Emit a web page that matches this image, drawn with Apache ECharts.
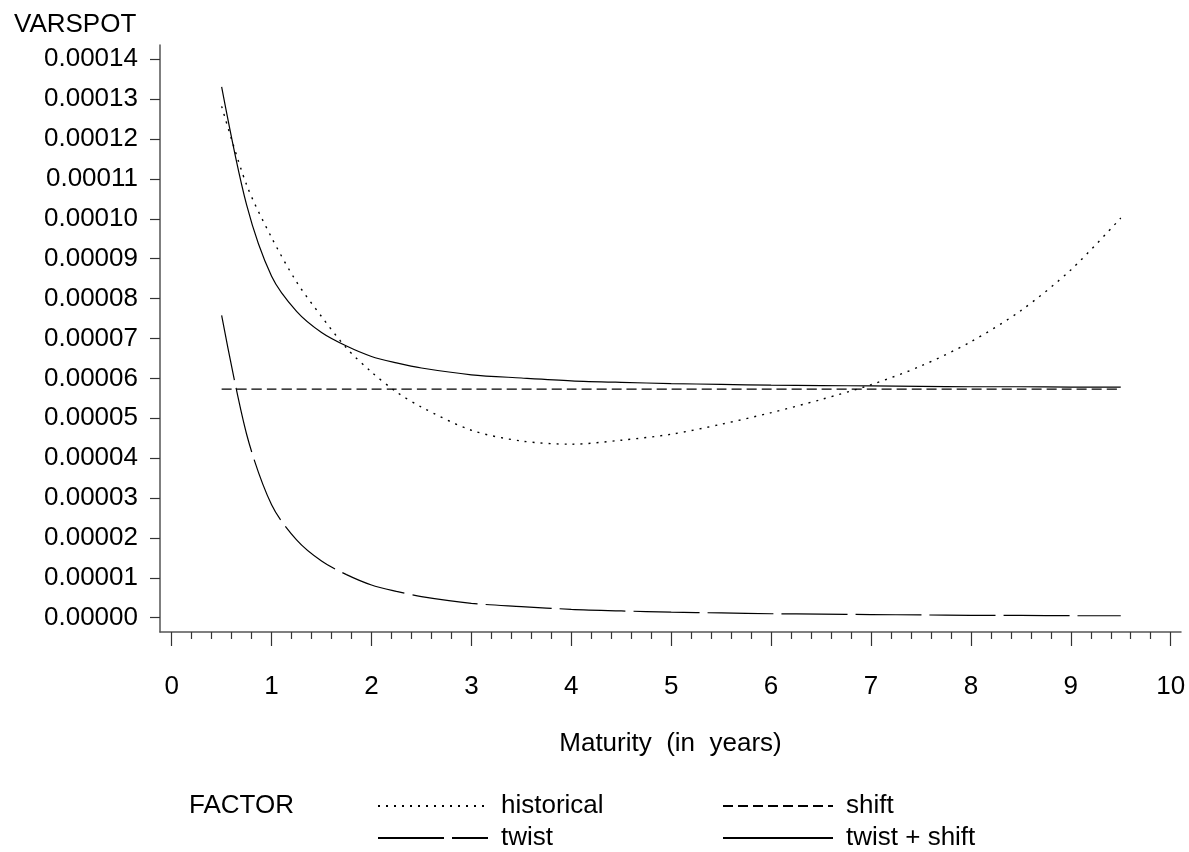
<!DOCTYPE html>
<html>
<head>
<meta charset="utf-8">
<title>VARSPOT by maturity</title>
<script src="https://cdn.jsdelivr.net/npm/echarts@6/dist/echarts.min.js"></script>
<style>
  html, body { margin: 0; padding: 0; background: #fff; }
  #chart { width: 1189px; height: 852px; }
</style>
</head>
<body>
<div id="chart"></div>
<script>
// maturity in years
const maturity = [0.5, 0.75, 1, 1.25, 1.5, 1.75, 2, 2.25, 2.5, 3, 3.5, 4, 4.5, 5, 5.5, 6, 6.5, 7, 7.5, 8, 8.5, 9, 9.5];

// variance of spot rate, in units of 1e-5
const historical = [12.82, 10.85, 9.53, 8.42, 7.55, 6.76, 6.16, 5.66, 5.28, 4.70, 4.43, 4.35, 4.45, 4.60, 4.85, 5.14, 5.47, 5.84, 6.31, 6.92, 7.70, 8.72, 10.02];
const shift = [5.73, 5.73, 5.73, 5.73, 5.73, 5.73, 5.73, 5.73, 5.73, 5.73, 5.73, 5.73, 5.73, 5.73, 5.73, 5.73, 5.73, 5.73, 5.73, 5.73, 5.73, 5.73, 5.73];
const twist = [7.58, 4.60, 2.83, 1.95, 1.42, 1.08, 0.82, 0.66, 0.53, 0.36, 0.28, 0.21, 0.17, 0.14, 0.12, 0.10, 0.09, 0.08, 0.07, 0.06, 0.06, 0.05, 0.05];
const twistShift = [13.31, 10.35, 8.56, 7.68, 7.15, 6.81, 6.55, 6.39, 6.26, 6.09, 6.01, 5.94, 5.90, 5.87, 5.85, 5.83, 5.82, 5.81, 5.80, 5.79, 5.79, 5.78, 5.78];

// axis ticks
const xMajorTicks = [0, 1, 2, 3, 4, 5, 6, 7, 8, 9, 10];
const yTicks = [0, 1, 2, 3, 4, 5, 6, 7, 8, 9, 10, 11, 12, 13, 14];

const xMinorTicks = [];
for (let i = 0; i < 50; i++) {
  if (i % 5 !== 0) xMinorTicks.push(i / 5);
}

const FONT = 'Liberation Sans, Arial, Helvetica, sans-serif';
const FS = 26;
const INK = '#000';
const X_MIN = -0.117, X_MAX = 10.103;
const Y_MIN = -0.358, Y_MAX = 14.358;

const toPairs = vals => maturity.map((m, i) => [m, vals[i]]);

const lineSeries = (name, vals, type, width) => ({
  name,
  type: 'line',
  data: toPairs(vals),
  symbol: 'none',
  smooth: 0.3,
  xAxisIndex: 0,
  lineStyle: { color: INK, width: width || 1.2, type, cap: 'butt' },
  itemStyle: { color: INK },
  emphasis: { disabled: true },
  silent: true
});

const legendBase = {
  orient: 'horizontal',
  padding: 0,
  itemGap: 0,
  itemWidth: 110,
  itemHeight: 26,
  selectedMode: false,
  itemStyle: { opacity: 0 },
  textStyle: { fontSize: FS, fontFamily: FONT, color: INK, padding: [0, 0, 0, 8] }
};

const chart = echarts.init(document.getElementById('chart'), null, { renderer: 'canvas' });

chart.setOption({
  animation: false,
  backgroundColor: '#fff',
  grid: { left: 160, right: 8, top: 45, bottom: 220, containLabel: false },
  xAxis: [
    {
      type: 'value',
      min: X_MIN,
      max: X_MAX,
      position: 'bottom',
      axisLine: { show: true, onZero: false, lineStyle: { color: '#555', width: 1.5 } },
      axisTick: { show: true, customValues: xMajorTicks, length: 14, lineStyle: { color: '#333', width: 1.2 } },
      axisLabel: { customValues: xMajorTicks, margin: 42, fontSize: FS, fontFamily: FONT, color: INK },
      splitLine: { show: false },
      name: 'Maturity  (in  years)',
      nameLocation: 'middle',
      nameGap: 99,
      nameTextStyle: { fontSize: FS, fontFamily: FONT, color: INK }
    },
    {
      type: 'value',
      min: X_MIN,
      max: X_MAX,
      position: 'bottom',
      axisLine: { show: false, onZero: false },
      axisTick: { show: true, customValues: xMinorTicks, length: 7, lineStyle: { color: '#333', width: 1.2 } },
      axisLabel: { show: false },
      splitLine: { show: false }
    }
  ],
  yAxis: {
    type: 'value',
    min: Y_MIN,
    max: Y_MAX,
    axisLine: { show: true, onZero: false, lineStyle: { color: '#555', width: 1.5 } },
    axisTick: { show: true, customValues: yTicks, length: 10, lineStyle: { color: '#333', width: 1.2 } },
    axisLabel: {
      customValues: yTicks,
      margin: 22,
      fontSize: FS,
      fontFamily: FONT,
      color: INK,
      formatter: v => (v * 1e-5).toFixed(5)
    },
    splitLine: { show: false }
  },
  legend: [
    Object.assign({}, legendBase, { data: ['historical'], left: 377, top: 793 }),
    Object.assign({}, legendBase, { data: ['shift'], left: 722, top: 793 }),
    Object.assign({}, legendBase, { data: ['twist'], left: 377, top: 825 }),
    Object.assign({}, legendBase, { data: ['twist + shift'], left: 722, top: 825 })
  ],
  graphic: [
    {
      type: 'text',
      left: 14,
      top: 12,
      style: { text: 'VARSPOT', fontSize: FS, fontFamily: FONT, fill: INK }
    },
    {
      type: 'text',
      left: 189,
      top: 793,
      style: { text: 'FACTOR', fontSize: FS, fontFamily: FONT, fill: INK }
    }
  ],
  series: [
    lineSeries('historical', historical, [2, 6], 1.4),
    lineSeries('shift', shift, [10, 5]),
    lineSeries('twist', twist, [66, 8]),
    lineSeries('twist + shift', twistShift, 'solid')
  ]
});
</script>
</body>
</html>
